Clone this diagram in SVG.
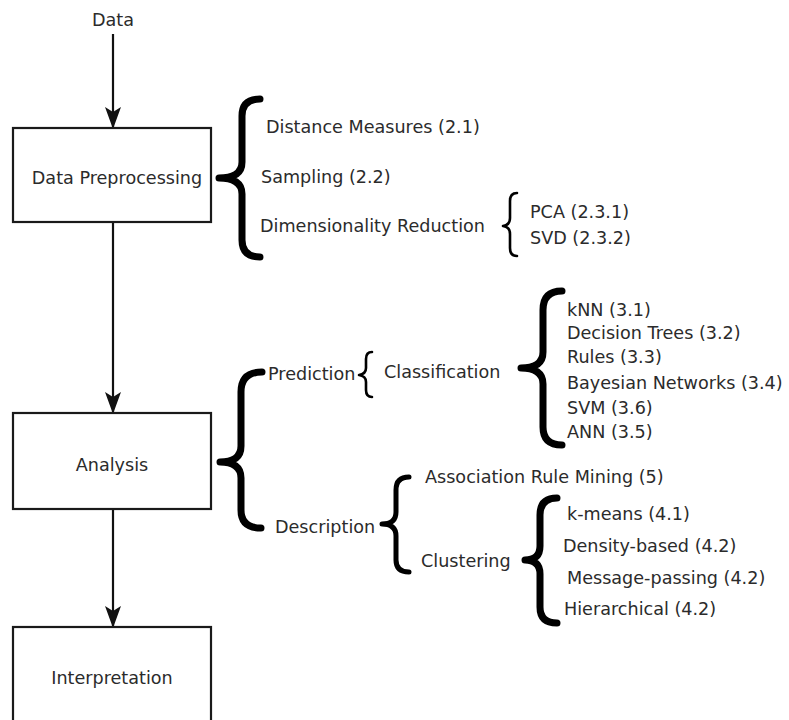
<svg xmlns="http://www.w3.org/2000/svg" width="789" height="720" viewBox="0 0 789 720">
<style>
.box{fill:#fff;stroke:#1a1a1a;stroke-width:2.2}
.t{font-family:"DejaVu Sans","Liberation Sans",sans-serif;font-size:17.6px;fill:#2b2b2b}
.c{text-anchor:middle}
.br{fill:none;stroke:#000;stroke-linecap:round;stroke-linejoin:round}
.b1{stroke-width:7}
.b2{stroke-width:5}
.b3{stroke-width:2.6}
.ln{stroke:#111;stroke-width:2.2;fill:none}
</style>
<defs>
<marker id="ah" viewBox="0 0 22 16" refX="21" refY="8" markerWidth="22" markerHeight="16" markerUnits="userSpaceOnUse" orient="auto">
<path d="M0,0 L22,8 L0,16 L5,8 Z" fill="#111"/>
</marker>
</defs>
<rect width="789" height="720" fill="#fff"/>
<g id="connectors">
<line class="ln" x1="113" y1="34" x2="113" y2="128" marker-end="url(#ah)"/>
<line class="ln" x1="113" y1="223" x2="113" y2="413" marker-end="url(#ah)"/>
<line class="ln" x1="113" y1="510" x2="113" y2="627" marker-end="url(#ah)"/>
</g>
<g id="data-label"><text class="t c" x="113" y="26">Data</text></g>
<g id="node-preprocessing">
<rect class="box" x="13" y="128" width="198" height="94"/>
<text class="t c" x="117" y="184">Data Preprocessing</text>
</g>
<g id="node-analysis">
<rect class="box" x="13" y="413" width="198" height="96"/>
<text class="t c" x="112" y="471">Analysis</text>
</g>
<g id="node-interpretation">
<rect class="box" x="13" y="627" width="198" height="96"/>
<text class="t c" x="112" y="684">Interpretation</text>
</g>
<g id="brace-preprocessing">
<path class="br b1" d="M260,99 Q242,99 242,116 L242,162 Q242,178 219,178 Q242,178 242,194 L242,240 Q242,257 260,257"/>
<text class="t" x="266" y="133">Distance Measures (2.1)</text>
<text class="t" x="261" y="183">Sampling (2.2)</text>
<text class="t" x="260" y="232">Dimensionality Reduction</text>
</g>
<g id="brace-dimred">
<path class="br b3" d="M517,193 Q510,193 510,201 L510,218 Q510,225 503,226 Q510,227 510,234 L510,248 Q510,256 517,256"/>
<text class="t" x="530" y="218">PCA (2.3.1)</text>
<text class="t" x="530" y="244">SVD (2.3.2)</text>
</g>
<g id="brace-analysis">
<path class="br b1" d="M262,372 Q241,372 241,392 L241,446 Q241,462 220,462 Q241,462 241,478 L241,510 Q241,528 261,528"/>
<text class="t" x="268" y="380">Prediction</text>
<text class="t" x="275" y="533">Description</text>
</g>
<g id="brace-prediction">
<path class="br b3" d="M372,352 Q366,352 366,359 L366,368 Q366,374 359,375 Q366,376 366,382 L366,390 Q366,397 372,397"/>
<text class="t" x="384" y="378">Classification</text>
</g>
<g id="brace-classification">
<path class="br b1" d="M562,291 Q543,291 543,310 L543,352 Q543,368 521,368 Q543,368 543,384 L543,427 Q543,445 562,445"/>
<text class="t" x="567" y="316">kNN (3.1)</text>
<text class="t" x="567" y="339">Decision Trees (3.2)</text>
<text class="t" x="567" y="363">Rules (3.3)</text>
<text class="t" x="567" y="389">Bayesian Networks (3.4)</text>
<text class="t" x="567" y="414">SVM (3.6)</text>
<text class="t" x="567" y="438">ANN (3.5)</text>
</g>
<g id="brace-description">
<path class="br b2" d="M409,477 Q396,477 396,490 L396,512 Q396,524 382,524 Q396,524 396,536 L396,560 Q396,572 409,572"/>
<text class="t" x="425" y="483">Association Rule Mining (5)</text>
<text class="t" x="421" y="567">Clustering</text>
</g>
<g id="brace-clustering">
<path class="br b1" d="M557,498 Q540,498 540,515 L540,546 Q540,560 525,560 Q540,560 540,574 L540,607 Q540,623 557,623"/>
<text class="t" x="567" y="520">k-means (4.1)</text>
<text class="t" x="563" y="552">Density-based (4.2)</text>
<text class="t" x="567" y="584">Message-passing (4.2)</text>
<text class="t" x="564" y="615">Hierarchical (4.2)</text>
</g>
</svg>
